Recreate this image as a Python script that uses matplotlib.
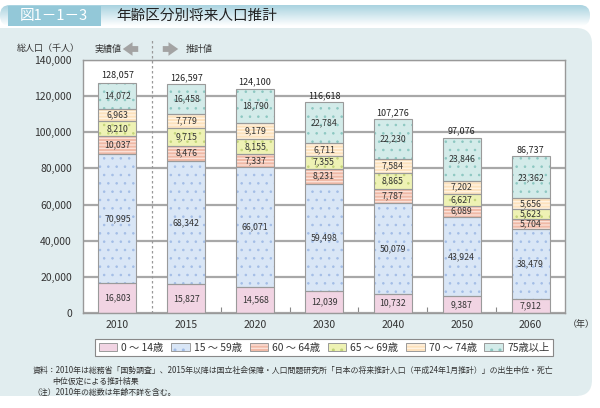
import matplotlib
matplotlib.use("Agg")
import matplotlib.pyplot as plt
import numpy as np
from matplotlib.patches import Rectangle, FancyBboxPatch, Patch, FancyArrowPatch
from matplotlib.colors import LinearSegmentedColormap

plt.rcParams['font.family'] = ['Noto Sans CJK JP', 'DejaVu Sans']

years = ['2010', '2015', '2020', '2030', '2040', '2050', '2060']
age_0_14 = [16803, 15827, 14568, 12039, 10732, 9387, 7912]
age_15_59 = [70995, 68342, 66071, 59498, 50079, 43924, 38479]
age_60_64 = [10037, 8476, 7337, 8231, 7787, 6089, 5704]
age_65_69 = [8210, 9715, 8155, 7355, 8865, 6627, 5623]
age_70_74 = [6963, 7779, 9179, 6711, 7584, 7202, 5656]
age_75 = [14072, 16458, 18790, 22784, 22230, 23846, 23362]
totals = [128057, 126597, 124100, 116618, 107276, 97076, 86737]
series_labels = ['0 ～ 14歳', '15 ～ 59歳', '60 ～ 64歳', '65 ～ 69歳', '70 ～ 74歳', '75歳以上']
series = [age_0_14, age_15_59, age_60_64, age_65_69, age_70_74, age_75]

faces = ['#f1d4e3', '#d9e6f6', '#f0b9a6', '#eef2b4', '#fde2bd', '#d3ebe9']
hatch_cols = ['#f1d4e3', '#a3bde6', '#fbe1d8', '#c3d47a', '#fff3e2', '#8cc7c1']
hatches = [None, '..', '-----', '..', '-----', '..']
hatch_lw = [1.0, 0.6, 1.0, 0.6, 1.0, 0.6]

W, H = 600, 408
fig = plt.figure(figsize=(6, 4.08), dpi=100)

# background decoration axes (pixel coordinates)
bg = fig.add_axes([0, 0, 1, 1], zorder=-10)
bg.set_xlim(0, W)
bg.set_ylim(H, 0)
bg.axis('off')
panel = FancyBboxPatch((-20, 28), 612, 368, boxstyle='round,pad=0,rounding_size=16',
                       facecolor='#e1edef', edgecolor='none')
bg.add_patch(panel)
grad = np.linspace(0, 1, 50).reshape(-1, 1)
cmap = LinearSegmentedColormap.from_list('g', ['#a9d3e0', '#ffffff'])
strip = FancyBboxPatch((0, 5), 590, 21, boxstyle='round,pad=0,rounding_size=10',
                       facecolor='none', edgecolor='none')
bg.add_patch(strip)
im = bg.imshow(grad, cmap=cmap, extent=(0, 590, 26, 5), aspect='auto')
im.set_clip_path(strip)
bg.add_patch(Rectangle((8, 6), 93, 20, facecolor='#93c8d8', edgecolor='none'))
bg.text(54, 16, '図1－1－3', color='white', fontsize=10.5, ha='center', va='center')
bg.text(116, 16, '年齢区分別将来人口推計', color='#222222', fontsize=10.5, ha='left', va='center')
bg.set_xlim(0, W)
bg.set_ylim(H, 0)

# main axes
left, right, top, bottom = 83, 565, 60, 313
ax = fig.add_axes([left / W, 1 - bottom / H, (right - left) / W, (bottom - top) / H])
ax.set_facecolor('white')
x = np.arange(len(years))
bw = 0.55
base = np.zeros(len(years))
for vals, fc, hc, ht, hl in zip(series, faces, hatch_cols, hatches, hatch_lw):
    v = np.array(vals, dtype=float)
    with plt.rc_context({'hatch.linewidth': hl}):
        ax.bar(x, v, bw, bottom=base, color=fc, edgecolor=hc if ht else fc, linewidth=0,
               hatch=ht, zorder=2)
    ax.bar(x, v, bw, bottom=base, fill=False, edgecolor='#9a9a9a', linewidth=0.8, zorder=3)
    for xi, b, val in zip(x, base, v):
        ax.text(xi, b + val / 2, f'{int(val):,}', ha='center', va='center',
                fontsize=6.3, color='#333333', zorder=4)
    base += v
for xi, b, t in zip(x, base, totals):
    ax.text(xi, max(b, t) + 1200, f'{t:,}', ha='center', va='bottom', fontsize=6.5,
            color='#222222', zorder=4)

ax.set_xlim(-0.5, len(years) - 0.5)
ax.set_ylim(0, 140000)
ax.set_yticks(np.arange(0, 140001, 20000))
ax.set_yticklabels([f'{v:,}' for v in range(0, 140001, 20000)])
ax.yaxis.grid(True, color='#a8a8a8', linewidth=1.6, zorder=0)
ax.set_axisbelow(True)
ax.tick_params(axis='y', length=0, pad=8, labelsize=7.5, labelcolor='#333333')
ax.set_xticks(x)
ax.set_xticklabels(years)
ax.tick_params(axis='x', length=0, pad=5, labelsize=7.5, labelcolor='#333333')
ax.set_xticks(np.arange(1.5, len(years) - 1, 1.0), minor=True)
ax.tick_params(axis='x', which='minor', direction='in', length=4, color='#888888', width=0.8)
for s in ax.spines.values():
    s.set_color('#999999')
    s.set_linewidth(1.0)

# dashed separator between actual and projected
ax.axvline(0.5, ymin=0, ymax=(bottom - 40) / (bottom - top), color='#999999',
           linestyle=(0, (2, 2)), linewidth=0.9, clip_on=False, zorder=5)

fig.text(80 / W, 1 - 49 / H, '総人口（千人）', ha='right', va='center', fontsize=6.5, color='#333333')
fig.text(95 / W, 1 - 49 / H, '実績値', ha='left', va='center', fontsize=6.5, color='#333333')
fig.text(186 / W, 1 - 49 / H, '推計値', ha='left', va='center', fontsize=6.5, color='#333333')
arrow_kw = dict(arrowstyle='simple,head_length=0.5,head_width=0.7,tail_width=0.3',
                color='#a3a3a3', lw=0)
fig.add_artist(FancyArrowPatch((141 / W, 1 - 49 / H), (120 / W, 1 - 49 / H),
               transform=fig.transFigure, mutation_scale=14, **arrow_kw))
fig.add_artist(FancyArrowPatch((160 / W, 1 - 49 / H), (181 / W, 1 - 49 / H),
               transform=fig.transFigure, mutation_scale=14, **arrow_kw))
fig.text(581 / W, 1 - 325 / H, '（年）', ha='center', va='center', fontsize=6.5, color='#333333')

handles = []
for fc, hc, ht, hl in zip(faces, hatch_cols, hatches, hatch_lw):
    with plt.rc_context({'hatch.linewidth': hl}):
        p1 = Patch(facecolor=fc, edgecolor=hc if ht else fc, linewidth=0, hatch=ht)
    p2 = Patch(fill=False, edgecolor='#9a9a9a', linewidth=0.7)
    handles.append((p1, p2))
leg = fig.legend(handles, series_labels, ncol=6, loc='center',
                 bbox_to_anchor=(324 / W, 1 - 347.5 / H), fontsize=7.4, frameon=True,
                 fancybox=False, edgecolor='#888888', framealpha=1, handlelength=1.8,
                 handleheight=0.9, handletextpad=0.4, columnspacing=0.75, borderpad=0.35)
leg.get_frame().set_linewidth(0.8)
for t in leg.get_texts():
    t.set_color('#333333')

fig.text(33 / W, 1 - 370 / H,
         '資料：2010年は総務省「国勢調査」、2015年以降は国立社会保障・人口問題研究所「日本の将来推計人口（平成24年1月推計）」の出生中位・死亡',
         ha='left', va='center', fontsize=5.7, color='#333333')
fig.text(52 / W, 1 - 381 / H, '中位仮定による推計結果', ha='left', va='center', fontsize=5.7, color='#333333')
fig.text(33 / W, 1 - 392 / H, '（注）2010年の総数は年齢不詳を含む。', ha='left', va='center', fontsize=5.7, color='#333333')

fig.savefig('out.png', dpi=100, facecolor='white')
